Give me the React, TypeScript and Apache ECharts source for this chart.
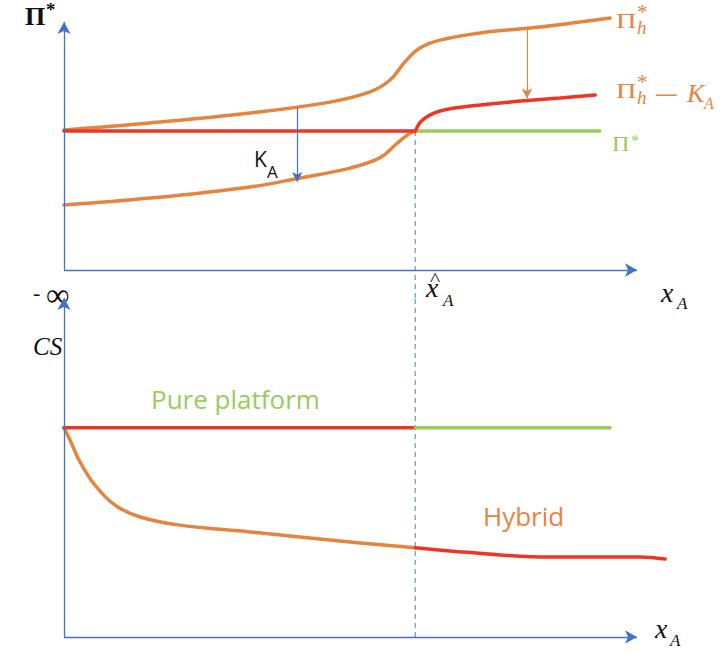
import React, { useEffect, useRef } from "react";
import * as echarts from "echarts";

// ---- data (abstract units: x 0..100 = axis length, y 0..100 = axis height) ----
const xHat = 61.3; // position of x̂_A
const piStarTop = 56; // Π* level (top panel)
const piStarEnd = 93.5;
const piH: number[][] = [
  [0, 56.5], [15, 59.3], [32.5, 63.3], [46.4, 67.7], [53.4, 71.8], [56.9, 76.6],
  [59.5, 83.9], [62.1, 89.5], [65.6, 92.7], [72.6, 95.6], [83.1, 98], [90, 100], [95.3, 101.6],
];
const piHminusK_left: number[][] = [
  [0, 26.2], [15, 29], [32.5, 33.5], [41.2, 37.1], [49.9, 41.1], [55.1, 45.2],
  [57.8, 50.4], [60, 54.6], [61.3, 56],
];
const piHminusK_right: number[][] = [
  [61.3, 56], [62.6, 60.5], [65.6, 64.1], [70.9, 66.1], [79.6, 68.1], [86.6, 69.4], [92.7, 70.6],
];
const kArrow: number[][] = [[40.7, 65.3], [40.7, 35.5]];
const hArrow: number[][] = [[80.8, 98.2], [80.8, 69.2]];

const csPure = 61.7;
const csPureEnd = 95.3;
const hybridLeft: number[][] = [
  [0, 61.7], [1.05, 58.1], [2.8, 51.6], [5.4, 44.8], [8.9, 38.9], [13.3, 35.4],
  [20.2, 33], [32.5, 31], [46.4, 28.6], [61.3, 26.3],
];
const hybridRight: number[][] = [
  [61.3, 26.3], [67.4, 25.4], [76.1, 24.2], [84.8, 23.6], [93.5, 23.6], [100.5, 23.6], [104.9, 23],
];

const ORANGE = "#E5843F";
const RED = "#EE3524";
const GREEN = "#99CC5C";
const BLUE = "#4472C4";
const DASH = "#5B9BD5";

export default function App() {
  const ref = useRef<HTMLDivElement>(null);
  useEffect(() => {
    const chart = echarts.init(ref.current!, undefined, { renderer: "svg" });
    const lw = 3.5;
    const line = (data: number[][], color: string, grid: number, smooth: number | boolean = 0.4, extra: any = {}) => ({
      type: "line",
      xAxisIndex: grid,
      yAxisIndex: grid,
      data,
      smooth,
      showSymbol: false,
      symbol: "none",
      clip: false,
      lineStyle: { color, width: lw, cap: "round" },
      silent: true,
      ...extra,
    });
    const arrow = (from: number[], to: number[], color: string, grid: number, width = 1.3, size: number[] = [9, 11]) => ({
      type: "line",
      xAxisIndex: grid,
      yAxisIndex: grid,
      data: [],
      silent: true,
      markLine: {
        silent: true,
        animation: false,
        symbol: ["none", "arrow"],
        symbolSize: size,
        label: { show: false },
        lineStyle: { color, width, type: "solid" },
        data: [[{ coord: from }, { coord: to }]],
      },
    });
    const serif = "Liberation Serif";
    const sans = "Open Sans";
    const txt = (text: string, x: number, y: number, size: number, fill: string, family = serif, extra: string = "", sx = 1, lh?: number) => ({
      type: "text",
      x,
      y,
      scaleX: sx,
      silent: true,
      style: { text, fill, font: `${extra} ${size}px "${family}"`, textVerticalAlign: "top", lineHeight: lh ?? size },
    });

    chart.setOption({
      animation: false,
      grid: [
        { left: 64, width: 607.4, top: 9.6, height: 291.4 },
        { left: 64, width: 607.4, top: 298, height: 339 },
      ],
      xAxis: [
        { type: "value", min: 0, max: 106, show: false, gridIndex: 0 },
        { type: "value", min: 0, max: 106, show: false, gridIndex: 1 },
      ],
      yAxis: [
        { type: "value", min: -12.5, max: 105, show: false, gridIndex: 0 },
        { type: "value", min: 0, max: 100, show: false, gridIndex: 1 },
      ],
      series: [
        // top panel
        arrow([0, 0], [0, 100], BLUE, 0, 1.3, [10, 12]),
        arrow([0, 0], [100, 0], BLUE, 0, 1.3, [10, 12]),
        line([[xHat, piStarTop], [xHat, -12.5]], DASH, 0, false, { lineStyle: { color: DASH, width: 1.2, type: [5, 4] } }),
        line(piH, ORANGE, 0),
        line(piHminusK_left, ORANGE, 0),
        line([[0, piStarTop], [xHat, piStarTop]], RED, 0, false),
        line([[xHat, piStarTop], [piStarEnd, piStarTop]], GREEN, 0, false),
        line(piHminusK_right, RED, 0),
        arrow(kArrow[0], kArrow[1], BLUE, 0, 1.2, [8, 10]),
        arrow(hArrow[0], hArrow[1], ORANGE, 0, 1.2, [8, 10]),
        // bottom panel
        arrow([0, 0], [0, 100], BLUE, 1, 1.3, [10, 12]),
        arrow([0, 0], [100, 0], BLUE, 1, 1.3, [10, 12]),
        line([[xHat, 0], [xHat, 100]], DASH, 1, false, { lineStyle: { color: DASH, width: 1.2, type: [5, 4] } }),
        line(hybridLeft, ORANGE, 1),
        line(hybridRight, RED, 1),
        line([[0, csPure], [xHat, csPure]], RED, 1, false),
        line([[xHat, csPure], [csPureEnd, csPure]], GREEN, 1, false),
      ],
      graphic: [
        // top y label Π*
        txt("Π", 25, 3, 26, "#111", serif, "bold"),
        txt("*", 46, 0, 19, "#111", serif, "bold"),
        // Π_h*
        txt("Π", 616, 10.5, 21, ORANGE, serif, "", 1.35),
        txt("*", 637, 5.5, 21, ORANGE, serif, "", 1, 12),
        txt("h", 637, 21, 19, ORANGE, serif, "italic", 1, 12),
        // Π_h* − K_A
        txt("Π", 616, 80.5, 21, ORANGE, serif, "", 1.35),
        txt("*", 637, 75.5, 21, ORANGE, serif, "", 1, 12),
        txt("h", 637, 91, 19, ORANGE, serif, "italic", 1, 12),
        txt("−", 654, 80, 30, ORANGE, serif, "", 1.5),
        txt("K", 687, 80, 26, ORANGE, serif, "italic"),
        txt("A", 704, 95, 16, ORANGE, serif, "italic"),
        // Π* green
        txt("Π", 612, 134, 21, GREEN, serif, "", 1.15),
        txt("*", 631, 132, 17, GREEN, serif),
        // K_A
        txt("K", 254, 148, 21, "#111", sans),
        txt("A", 267, 163, 17, "#111", sans),
        // - ∞
        txt("-", 33, 281, 22, "#111", serif),
        txt("∞", 46, 278, 33, "#111", serif),
        // x̂_A
        txt("^", 430, 271, 18, "#111", serif, "", 1.2),
        txt("x", 426, 273.5, 28, "#111", serif, "italic"),
        txt("A", 443, 292, 17, "#111", serif, "italic"),
        // x_A top
        txt("x", 661, 278.5, 28, "#111", serif, "italic"),
        txt("A", 677, 295, 17, "#111", serif, "italic"),
        // CS
        txt("CS", 33, 334, 25, "#111", serif, "italic"),
        // x_A bottom
        txt("x", 655, 614.5, 28, "#111", serif, "italic"),
        txt("A", 670, 632, 17, "#111", serif, "italic"),
        // Pure platform / Hybrid
        txt("Pure platform", 151, 386, 26, GREEN, sans),
        txt("Hybrid", 483, 503, 26, ORANGE, sans),
      ],
    });
    return () => chart.dispose();
  }, []);
  return (
    <div
      ref={ref}
      style={{ position: "fixed", left: 0, top: 0, width: 720, height: 654, background: "#fff" }}
    />
  );
}
